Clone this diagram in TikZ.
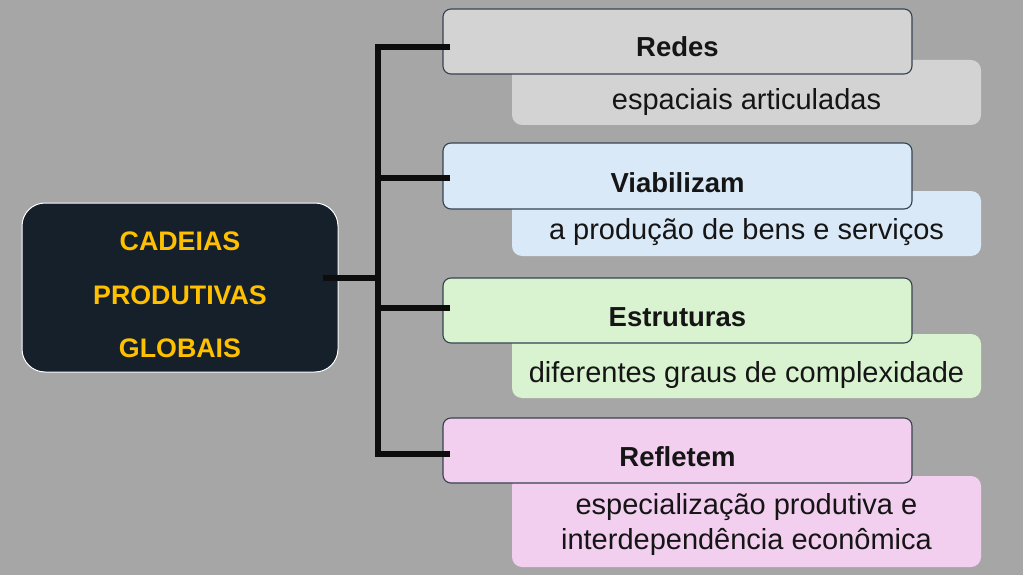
\documentclass[tikz,border=0pt]{standalone}
\usepackage{fontspec}
\setmainfont{Liberation Sans}
\usetikzlibrary{calc}
\definecolor{bggray}{HTML}{A6A6A6}
\definecolor{navy}{HTML}{15202B}
\definecolor{gold}{HTML}{FFC000}
\definecolor{cgray}{HTML}{D3D3D3}
\definecolor{cblue}{HTML}{DAE9F7}
\definecolor{cgreen}{HTML}{D9F2D0}
\definecolor{cpink}{HTML}{F2CEEF}
\definecolor{edge}{HTML}{36424F}
\definecolor{ink}{HTML}{151515}
\begin{document}
\begin{tikzpicture}[x=1pt,y=-1pt,
  mainbox/.style={draw=white, line width=1pt, fill=navy, rounded corners=23pt, minimum width=316pt, minimum height=169pt, inner sep=0pt},
  headbox/.style={draw=edge, line width=1.1pt, rounded corners=8pt, minimum width=469pt, minimum height=65pt, inner sep=0pt},
  subbox/.style={rounded corners=10pt, minimum width=469pt, inner sep=0pt},
  headtxt/.style={anchor=base, inner sep=0pt, font=\fontsize{27.5}{33}\selectfont\bfseries, text=ink},
  subtxt/.style={anchor=base, inner sep=0pt, font=\fontsize{29}{35}\selectfont, text=ink},
  maintxt/.style={anchor=base, inner sep=0pt, font=\fontsize{26.8}{32}\selectfont\bfseries, text=gold},
  link/.style={line width=6pt, draw=black!95}
]
\useasboundingbox (0,0) rectangle (1023,575);
\fill[bggray] (0,0) rectangle (1023,575);

% main node
\node[mainbox] (m) at (180,287.5) {};
\node[maintxt] (m1) at (180,250) {CADEIAS};
\node[maintxt] (m2) at (180,304) {PRODUTIVAS};
\node[maintxt] (m3) at (180,357) {GLOBAIS};

% row 1
\node[subbox, fill=cgray, minimum height=65pt] (s1) at (746.5,92.5) {};
\node[headbox, fill=cgray] (h1) at (677.5,41.5) {};
\node[headtxt] (h1t) at (677.5,57) {Redes};
\node[subtxt] (s1t) at (746.5,110) {espaciais articuladas};

% row 2
\node[subbox, fill=cblue, minimum height=65pt] (s2) at (746.5,223.5) {};
\node[headbox, fill=cblue, minimum height=66pt] (h2) at (677.5,176) {};
\node[headtxt] (h2t) at (677.5,193) {Viabilizam};
\node[subtxt] (s2t) at (746.5,239) {a produção de bens e serviços};

% row 3
\node[subbox, fill=cgreen, minimum height=64pt] (s3) at (746.5,366) {};
\node[headbox, fill=cgreen] (h3) at (677.5,310.5) {};
\node[headtxt] (h3t) at (677.5,326) {Estruturas};
\node[subtxt] (s3t) at (746.5,382) {diferentes graus de complexidade};

% row 4
\node[subbox, fill=cpink, minimum height=91pt] (s4) at (746.5,521.5) {};
\node[headbox, fill=cpink] (h4) at (677.5,450.5) {};
\node[headtxt] (h4t) at (677.5,466) {Refletem};
\node[subtxt] (s4t) at (746.5,514) {especialização produtiva e};
\node[subtxt] (s4u) at (746.5,549) {interdependência econômica};

% connectors
\coordinate (t1) at (378,47);
\coordinate (t2) at (378,178);
\coordinate (t3) at (378,308);
\coordinate (t4) at (378,454);
\coordinate (tm) at (378,278);
\draw[link] ($(h1.west|-t1)+(8,0)$) -- (t1) -- (t4) -- ($(h4.west|-t4)+(8,0)$);
\draw[link] (t2) -- ($(h2.west|-t2)+(8,0)$);
\draw[link] (t3) -- ($(h3.west|-t3)+(8,0)$);
\draw[link] ($(m.east|-tm)+(-16,0)$) -- (tm);
\end{tikzpicture}
\end{document}
